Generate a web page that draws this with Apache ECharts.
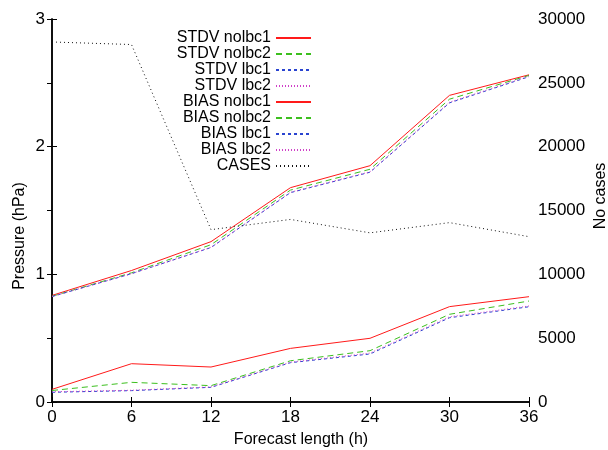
<!DOCTYPE html>
<html>
<head>
<meta charset="utf-8">
<script src="https://cdn.jsdelivr.net/npm/echarts@6/dist/echarts.min.js"></script>
<style>html,body{margin:0;padding:0;background:#fff;}#c{width:608px;height:450px;}</style>
</head>
<body>
<div id="c"></div>
<script>
var hours = [0, 6, 12, 18, 24, 30, 36];
var stdvNolbc1 = [0.835, 1.03, 1.256, 1.679, 1.851, 2.402, 2.563];
var stdvNolbc2 = [0.828, 1.012, 1.232, 1.660, 1.823, 2.372, 2.558];
var stdvLbc1 = [0.826, 1.005, 1.210, 1.640, 1.800, 2.343, 2.548];
var stdvLbc2 = [0.826, 1.005, 1.212, 1.643, 1.803, 2.348, 2.552];
var biasNolbc1 = [0.099, 0.300, 0.274, 0.420, 0.499, 0.747, 0.825];
var biasNolbc2 = [0.090, 0.154, 0.128, 0.323, 0.402, 0.687, 0.791];
var biasLbc1 = [0.076, 0.089, 0.115, 0.308, 0.376, 0.660, 0.746];
var biasLbc2 = [0.080, 0.092, 0.118, 0.312, 0.383, 0.667, 0.752];
var cases = [28200, 28000, 13500, 14300, 13250, 14050, 12950];

var FONT = 'Liberation Sans, Arial, sans-serif';
function pairs(vals) { return hours.map(function (h, i) { return [h, vals[i]]; }); }
function ser(name, vals, color, dash, axis) {
  return {
    name: name, type: 'line', data: pairs(vals), yAxisIndex: axis || 0,
    symbol: 'none', animation: false, silent: true,
    lineStyle: { color: color, width: 1, type: dash },
    itemStyle: { color: color }
  };
}
var RED = '#ff1a1a', GREEN = '#3cbf1e', BLUE = '#2a44d0', MAG = '#d040c8';
var SOLID = 'solid', DASH = [6, 4], SDASH = [3, 3], DOT = [1, 2];

var chart = echarts.init(document.getElementById('c'), null, { renderer: 'canvas' });
var axisCommon = {
  axisLine: { show: true, lineStyle: { color: '#000', width: 1.5 } },
  axisTick: { show: true, inside: true, length: 5, lineStyle: { color: '#000', width: 1 } },
  splitLine: { show: false }
};
chart.setOption({
  animation: false,
  backgroundColor: '#fff',
  textStyle: { fontFamily: FONT },
  grid: { left: 52, right: 79, top: 19, bottom: 48, containLabel: false },
  xAxis: [
    Object.assign({ type: 'value', min: 0, max: 36, interval: 6, position: 'bottom',
      axisLabel: { color: '#000', fontSize: 17, fontFamily: FONT, margin: 7 } }, axisCommon),
    Object.assign({ type: 'value', min: 0, max: 36, interval: 6, position: 'top',
      axisLabel: { show: false } }, axisCommon)
  ],
  yAxis: [
    Object.assign({ type: 'value', min: 0, max: 3, interval: 1, position: 'left',
      axisLabel: { color: '#000', fontSize: 17, fontFamily: FONT, margin: 7 } }, axisCommon),
    Object.assign({ type: 'value', min: 0, max: 30000, interval: 5000, position: 'right',
      axisLabel: { color: '#000', fontSize: 17, fontFamily: FONT, margin: 9,
        formatter: function (v) { return String(v); } } }, axisCommon)
  ],
  legend: {
    orient: 'vertical', align: 'right', right: 296, top: 30, padding: 0,
    itemGap: 0, itemWidth: 35, itemHeight: 14,
    itemStyle: { color: 'rgba(0,0,0,0)', opacity: 0, borderWidth: 0 },
    textStyle: { color: '#000', fontSize: 16, fontFamily: FONT, lineHeight: 15.9 },
    data: ['STDV nolbc1', 'STDV nolbc2', 'STDV lbc1', 'STDV lbc2',
           'BIAS nolbc1', 'BIAS nolbc2', 'BIAS lbc1', 'BIAS lbc2', 'CASES']
  },
  graphic: [
    { type: 'text', x: 301, y: 440, style: { text: 'Forecast length (h)', font: '16px ' + FONT, fill: '#000', align: 'center', verticalAlign: 'middle' } },
    { type: 'text', x: 20, y: 236, rotation: Math.PI / 2, style: { text: 'Pressure (hPa)', font: '16px ' + FONT, fill: '#000', align: 'center', verticalAlign: 'middle' } },
    { type: 'text', x: 601, y: 196, rotation: Math.PI / 2, style: { text: 'No cases', font: '16px ' + FONT, fill: '#000', align: 'center', verticalAlign: 'middle' } }
  ],
  series: [
    ser('STDV nolbc1', stdvNolbc1, RED, SOLID),
    ser('STDV nolbc2', stdvNolbc2, GREEN, DASH),
    ser('STDV lbc1', stdvLbc1, BLUE, SDASH),
    ser('STDV lbc2', stdvLbc2, MAG, DOT),
    ser('BIAS nolbc1', biasNolbc1, RED, SOLID),
    ser('BIAS nolbc2', biasNolbc2, GREEN, DASH),
    ser('BIAS lbc1', biasLbc1, BLUE, SDASH),
    ser('BIAS lbc2', biasLbc2, MAG, DOT),
    ser('CASES', cases, '#111', [1, 3], 1)
  ]
});
</script>
</body>
</html>
